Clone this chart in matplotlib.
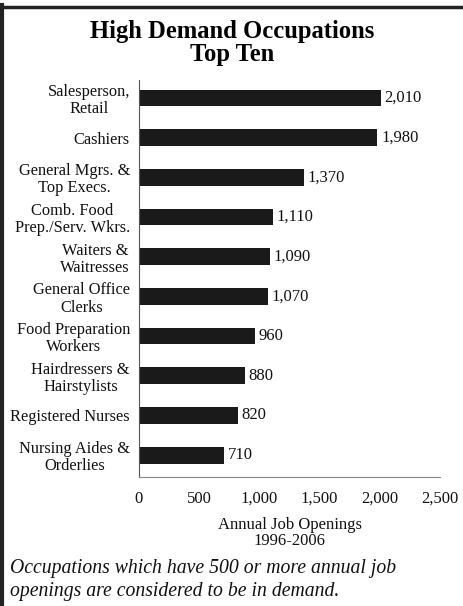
import matplotlib.pyplot as plt
from matplotlib.lines import Line2D

occupations = [
    "Salesperson,\nRetail",
    "Cashiers",
    "General Mgrs. &\nTop Execs.",
    "Comb. Food\nPrep./Serv. Wkrs.",
    "Waiters &\nWaitresses",
    "General Office\nClerks",
    "Food Preparation\nWorkers",
    "Hairdressers &\nHairstylists",
    "Registered Nurses",
    "Nursing Aides &\nOrderlies",
]
openings = [2010, 1980, 1370, 1110, 1090, 1070, 960, 880, 820, 710]
x_ticks = [0, 500, 1000, 1500, 2000, 2500]
x_tick_labels = ["0", "500", "1,000", "1,500", "2,000", "2,500"]

plt.rcParams['font.family'] = ['Liberation Serif', 'DejaVu Serif']

fig = plt.figure(figsize=(4.64, 6.06), dpi=100)
W, H = 464, 606
ax = fig.add_axes([139 / W, 1 - 477 / H, (440 - 139) / W, (477 - 80) / H])

pos = list(range(len(occupations)))
ax.barh(pos, openings, height=0.42, color='#1a1a1a')
for p, v in zip(pos, openings):
    ax.text(v + 30, p, f"{v:,}", va='center', ha='left', fontsize=12, color='#111111')

ax.set_xlim(0, 2500)
ax.set_ylim(9.55, -0.45)
ax.set_yticks(pos)
ax.set_yticklabels(occupations, fontsize=11.8, color='#111111', linespacing=1.1)
for t in ax.get_yticklabels():
    t.set_multialignment('center')
ax.set_xticks(x_ticks)
ax.set_xticklabels(x_tick_labels, fontsize=12, color='#111111')
ax.tick_params(axis='both', length=0)
ax.tick_params(axis='y', pad=6.5)
ax.tick_params(axis='x', pad=10)

ax.spines['top'].set_visible(False)
ax.spines['right'].set_visible(False)
ax.spines['left'].set_color('#555555')
ax.spines['left'].set_linewidth(0.8)
ax.spines['bottom'].set_color('#888888')
ax.spines['bottom'].set_linestyle((0, (1, 1)))
ax.spines['bottom'].set_linewidth(0.8)

ax.set_xlabel("Annual Job Openings\n1996-2006", fontsize=12, color='#111111',
              labelpad=7, linespacing=1.05)

fig.text(232 / W, 1 - 43 / H, "High Demand Occupations\nTop Ten", ha='center', va='center',
         fontsize=17.7, fontweight='bold', linespacing=1.05)
fig.text(10 / W, 1 - 580 / H, "Occupations which have 500 or more annual job\nopenings are considered to be in demand.",
         ha='left', va='center', fontsize=14.2, style='italic', linespacing=1.25, color='#111111')

# page frame: left and top rules
fig.add_artist(Line2D([2 / W, 2 / W], [0, 1 - 5 / H], color='#222222', linewidth=3,
                      transform=fig.transFigure))
fig.add_artist(Line2D([0, 1], [1 - 6.5 / H, 1 - 6.5 / H], color='#222222', linewidth=2.5,
                      transform=fig.transFigure))

fig.savefig("out.png", dpi=100)
